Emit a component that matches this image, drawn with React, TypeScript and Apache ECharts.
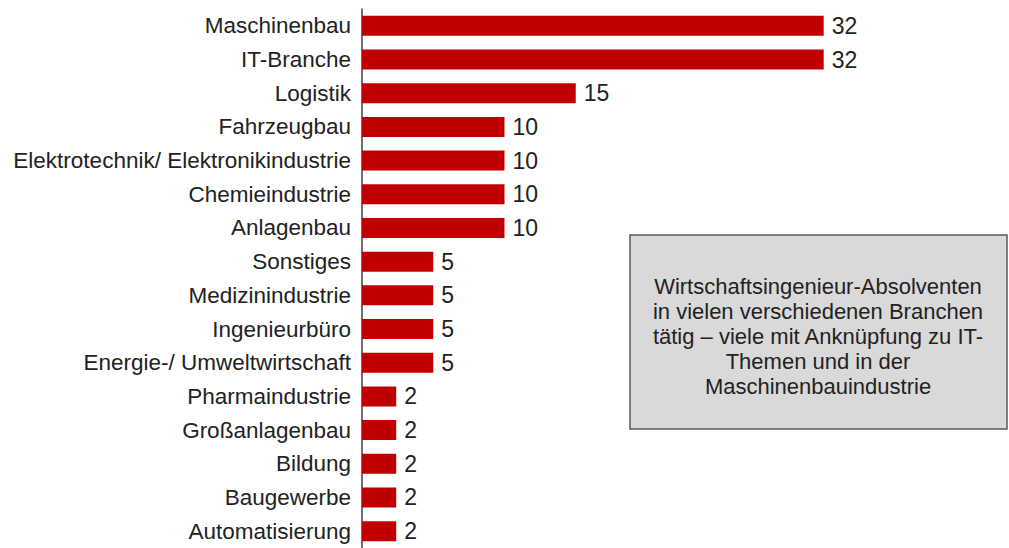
import React, { useEffect, useRef } from "react";
import * as echarts from "echarts";

const categories = [
  "Maschinenbau",
  "IT-Branche",
  "Logistik",
  "Fahrzeugbau",
  "Elektrotechnik/ Elektronikindustrie",
  "Chemieindustrie",
  "Anlagenbau",
  "Sonstiges",
  "Medizinindustrie",
  "Ingenieurbüro",
  "Energie-/ Umweltwirtschaft",
  "Pharmaindustrie",
  "Großanlagenbau",
  "Bildung",
  "Baugewerbe",
  "Automatisierung",
];

// estimated bar lengths (labels shown rounded)
const values = [32.4, 32.4, 15, 10, 10, 10, 10, 5, 5, 5, 5, 2.4, 2.4, 2.4, 2.4, 2.4];

const noteLines = [
  "Wirtschaftsingenieur-Absolventen",
  "in vielen verschiedenen Branchen",
  "tätig – viele mit Anknüpfung zu IT-",
  "Themen und in der",
  "Maschinenbauindustrie",
];

export default function App() {
  const ref = useRef<HTMLDivElement>(null);
  useEffect(() => {
    if (!ref.current) return;
    const chart = echarts.init(ref.current, null, { renderer: "svg" });
    const font = "Liberation Sans, Arial, sans-serif";
    chart.setOption({
      animation: false,
      backgroundColor: "#ffffff",
      grid: { left: 362, top: 9, width: 40 * 14.25, height: 543, containLabel: false },
      xAxis: {
        type: "value",
        min: 0,
        max: 40,
        show: false,
      },
      yAxis: {
        type: "category",
        data: categories,
        inverse: true,
        axisLine: { show: true, lineStyle: { color: "#404040", width: 1.5 } },
        axisTick: { show: false },
        axisLabel: {
          color: "#222222",
          fontFamily: font,
          fontSize: 22.5,
          margin: 11,
        },
        splitLine: { show: false },
      },
      series: [
        {
          type: "bar",
          data: values,
          barWidth: 20,
          itemStyle: { color: "#c00000" },
          label: {
            show: true,
            position: "right",
            distance: 8,
            color: "#222222",
            fontFamily: font,
            fontSize: 23,
            formatter: (p: any) => String(Math.round(p.value)),
          },
        },
      ],
      graphic: [
        {
          type: "rect",
          shape: { x: 630, y: 235, width: 377, height: 194 },
          style: { fill: "#d9d9d9", stroke: "#595959", lineWidth: 1.5 },
        },
        {
          type: "text",
          x: 818,
          y: 336,
          style: {
            text: noteLines.join("\n"),
            fill: "#222222",
            font: `22px ${font}`,
            textAlign: "center",
            textVerticalAlign: "middle",
            lineHeight: 25,
          },
        },
      ],
    });
    return () => chart.dispose();
  }, []);
  return (
    <div
      ref={ref}
      style={{ position: "fixed", left: 0, top: 0, width: 1009, height: 548 }}
    />
  );
}
